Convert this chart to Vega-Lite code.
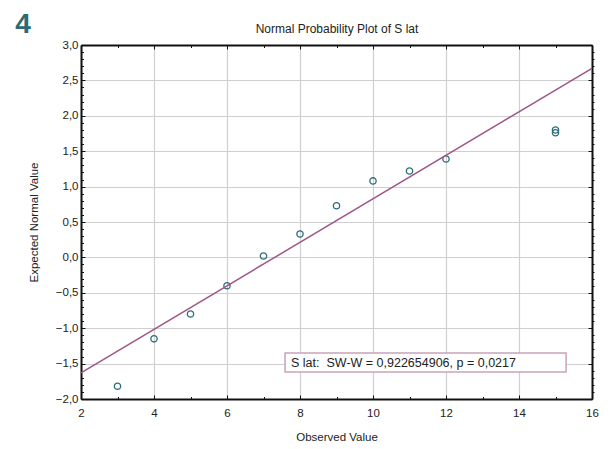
{
  "$schema": "https://vega.github.io/schema/vega-lite/v6.json",
  "width": 511,
  "height": 354,
  "autosize": {"type": "none"},
  "padding": {"left": 81, "top": 45, "right": 22, "bottom": 50},
  "background": "white",
  "config": {
    "view": {"stroke": null},
    "axis": {"labelFont": "Liberation Sans", "titleFont": "Liberation Sans", "labelFontSize": 11.5, "titleFontSize": 11.5, "titleFontWeight": "normal", "labelColor": "#222222", "titleColor": "#222222", "domainColor": "#111111", "tickColor": "#111111", "gridColor": "#cfcfcf", "gridWidth": 1.2}
  },
  "datasets": {
    "pts": [
      {"obs": 3, "exp": -1.82},
      {"obs": 4, "exp": -1.15},
      {"obs": 5, "exp": -0.8},
      {"obs": 6, "exp": -0.4},
      {"obs": 7, "exp": 0.02},
      {"obs": 8, "exp": 0.33},
      {"obs": 9, "exp": 0.73},
      {"obs": 10, "exp": 1.08},
      {"obs": 11, "exp": 1.22},
      {"obs": 12, "exp": 1.39},
      {"obs": 15, "exp": 1.76},
      {"obs": 15, "exp": 1.8}
    ],
    "fit": [
      {"obs": 2, "exp": -1.63},
      {"obs": 16, "exp": 2.67}
    ],
    "box": [
      {"x1": 7.59, "x2": 15.29, "y1": -1.35, "y2": -1.62, "ym": -1.485, "label": "S lat:\u00a0 SW-W = 0,922654906, p = 0,0217"}
    ],
    "tag": [
      {"x": 2, "y": 3, "label": "4"}
    ]
  },
  "resolve": {"axis": {"x": "independent", "y": "independent"}},
  "layer": [
    {
      "data": {"name": "pts"},
      "mark": {"type": "point", "shape": "circle", "filled": false, "stroke": "#2b6e77", "strokeWidth": 1.3, "size": 40, "opacity": 1},
      "encoding": {
        "x": {"field": "obs", "type": "quantitative", "scale": {"domain": [2, 16], "nice": false, "zero": false},
              "axis": {"orient": "bottom", "title": "Observed Value", "values": [2, 4, 6, 8, 10, 12, 14, 16], "grid": true, "tickSize": -4, "labelPadding": 12, "titlePadding": 13, "domainWidth": 2, "labelFlush": false}},
        "y": {"field": "exp", "type": "quantitative", "scale": {"domain": [-2, 3], "nice": false, "zero": false},
              "axis": {"orient": "left", "title": "Expected Normal Value", "values": [-2, -1.5, -1, -0.5, 0, 0.5, 1, 1.5, 2, 2.5, 3], "labelExpr": "replace(format(datum.value, '.1f'), '.', ',')", "grid": true, "tickSize": -4, "labelPadding": 7, "titlePadding": 16, "domainWidth": 2}}
      }
    },
    {
      "data": {"name": "fit"},
      "mark": {"type": "line", "stroke": "#9e5689", "strokeWidth": 1.5},
      "encoding": {
        "x": {"field": "obs", "type": "quantitative",
              "axis": {"orient": "top", "title": "Normal Probability Plot of S lat", "titleFontSize": 12, "titlePadding": 9, "labels": false, "grid": false, "values": [2, 4, 6, 8, 10, 12, 14, 16], "tickSize": -4, "domainWidth": 2}},
        "y": {"field": "exp", "type": "quantitative",
              "axis": {"orient": "right", "title": null, "labels": false, "grid": false, "values": [-2, -1.5, -1, -0.5, 0, 0.5, 1, 1.5, 2, 2.5, 3], "tickSize": -4, "domainWidth": 2}}
      }
    },
    {
      "data": {"name": "box"},
      "mark": {"type": "rect", "fill": "white", "stroke": "#c9a3b9", "strokeWidth": 1.5},
      "encoding": {
        "x": {"field": "x1", "type": "quantitative",
              "axis": {"orient": "bottom", "title": null, "labels": false, "grid": false, "domain": false, "values": [3, 5, 7, 9, 11, 13, 15], "tickSize": -2.5}},
        "x2": {"field": "x2"},
        "y": {"field": "y1", "type": "quantitative",
              "axis": {"orient": "left", "title": null, "labels": false, "grid": false, "domain": false, "values": [-1.9, -1.8, -1.7, -1.6, -1.4, -1.3, -1.2, -1.1, -0.9, -0.8, -0.7, -0.6, -0.4, -0.3, -0.2, -0.1, 0.1, 0.2, 0.3, 0.4, 0.6, 0.7, 0.8, 0.9, 1.1, 1.2, 1.3, 1.4, 1.6, 1.7, 1.8, 1.9, 2.1, 2.2, 2.3, 2.4, 2.6, 2.7, 2.8, 2.9], "tickSize": -2.5}},
        "y2": {"field": "y2"}
      }
    },
    {
      "data": {"name": "box"},
      "mark": {"type": "text", "align": "left", "baseline": "middle", "dx": 6, "font": "Liberation Sans", "fontSize": 12.5, "color": "#222222"},
      "encoding": {
        "x": {"field": "x1", "type": "quantitative",
              "axis": {"orient": "top", "title": null, "labels": false, "grid": false, "domain": false, "values": [3, 5, 7, 9, 11, 13, 15], "tickSize": -2.5}},
        "y": {"field": "ym", "type": "quantitative",
              "axis": {"orient": "right", "title": null, "labels": false, "grid": false, "domain": false, "values": [-1.9, -1.8, -1.7, -1.6, -1.4, -1.3, -1.2, -1.1, -0.9, -0.8, -0.7, -0.6, -0.4, -0.3, -0.2, -0.1, 0.1, 0.2, 0.3, 0.4, 0.6, 0.7, 0.8, 0.9, 1.1, 1.2, 1.3, 1.4, 1.6, 1.7, 1.8, 1.9, 2.1, 2.2, 2.3, 2.4, 2.6, 2.7, 2.8, 2.9], "tickSize": 2}},
        "text": {"field": "label"}
      }
    },
    {
      "data": {"name": "tag"},
      "mark": {"type": "text", "align": "center", "baseline": "middle", "dx": -58, "dy": -20, "font": "Liberation Sans", "fontSize": 28, "fontWeight": "bold", "color": "#2d6a73"},
      "encoding": {
        "x": {"field": "x", "type": "quantitative", "axis": null},
        "y": {"field": "y", "type": "quantitative", "axis": null},
        "text": {"field": "label"}
      }
    }
  ]
}
